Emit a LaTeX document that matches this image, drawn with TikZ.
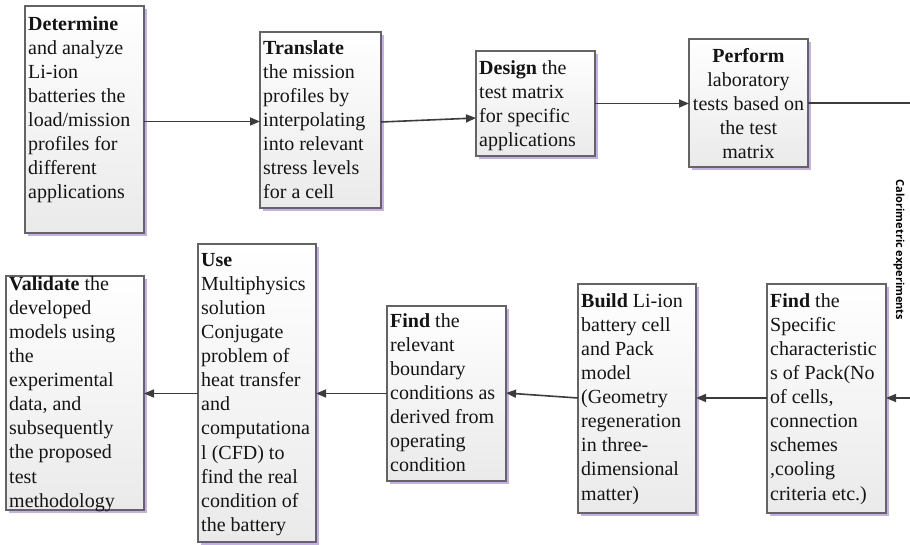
\documentclass[tikz,border=0pt]{standalone}
\usepackage{fontspec}
\setmainfont{Liberation Serif}
\newfontfamily\lblfont{Open Sans}
\usetikzlibrary{arrows.meta,shadows}
\definecolor{edgegray}{RGB}{60,60,60}
\definecolor{boxline}{RGB}{100,100,100}
\definecolor{shadowpurple}{RGB}{196,176,228}
\definecolor{boxbottom}{RGB}{234,234,234}
\newcommand{\fstrut}{\rule{0pt}{18pt}}
\tikzset{
  box/.style={draw=boxline, line width=1.2pt, top color=white, bottom color=boxbottom,
    inner sep=0pt, outer sep=0pt,
    drop shadow={shadow xshift=2.5pt, shadow yshift=-2.5pt, fill=shadowpurple, opacity=1}},
  txt/.style={inner sep=0pt, anchor=north west, align=left, text=black!92,
    font=\fontsize{20}{24.1}\selectfont},
  ctxt/.style={txt, anchor=north, align=center},
  flow/.style={draw=edgegray, line width=1.6pt, -{Triangle[length=10pt,width=8pt]}},
}
\begin{document}
\begin{tikzpicture}[x=1pt,y=-1pt]
\useasboundingbox (0,0) rectangle (910,544);
% boxes: top row
\node[box, minimum width=119pt, minimum height=227pt, anchor=north west] (det) at (25,6) {};
\node[box, minimum width=121pt, minimum height=176pt, anchor=north west] (tra) at (260,32) {};
\node[box, minimum width=119pt, minimum height=105pt, anchor=north west] (des) at (476,51) {};
\node[box, minimum width=119pt, minimum height=128pt, anchor=north west] (per) at (689,39) {};
% boxes: bottom row
\node[box, minimum width=138pt, minimum height=234pt, anchor=north west] (val) at (6,276) {};
\node[box, minimum width=118pt, minimum height=298pt, anchor=north west] (use) at (198,244) {};
\node[box, minimum width=119pt, minimum height=175pt, anchor=north west] (fbc) at (387,306) {};
\node[box, minimum width=118pt, minimum height=229pt, anchor=north west] (bld) at (578,284) {};
\node[box, minimum width=119pt, minimum height=229pt, anchor=north west] (fpk) at (767,284) {};
% texts
\node[txt] (det-t) at (28,12) {\fstrut\textbf{Determine}\\and analyze\\Li-ion\\batteries the\\load/mission\\profiles for\\different\\applications};
\node[txt] (tra-t) at (263,36) {\fstrut\textbf{Translate}\\the mission\\profiles by\\interpolating\\into relevant\\stress levels\\for a cell};
\node[txt] (des-t) at (479,56) {\fstrut\textbf{Design} the\\test matrix\\for specific\\applications};
\node[ctxt] (per-t) at (748.5,44) {\fstrut\textbf{Perform}\\laboratory\\tests based on\\the test\\matrix};
\node[txt] (val-t) at (9,272) {\fstrut\textbf{Validate} the\\developed\\models using\\the\\experimental\\data, and\\subsequently\\the proposed\\test\\methodology};
\node[txt] (use-t) at (201,248) {\fstrut\textbf{Use}\\Multiphysics\\solution\\Conjugate\\problem of\\heat transfer\\and\\computationa\\l (CFD) to\\find the real\\condition of\\the battery};
\node[txt] (fbc-t) at (390,309) {\fstrut\textbf{Find} the\\relevant\\boundary\\conditions as\\derived from\\operating\\condition};
\node[txt] (bld-t) at (581,289) {\fstrut\textbf{Build} Li-ion\\battery cell\\and Pack\\model\\(Geometry\\regeneration\\in three-\\dimensional\\matter)};
\node[txt] (fpk-t) at (770,289) {\fstrut\textbf{Find} the\\Specific\\characteristic\\s of Pack(No\\of cells,\\connection\\schemes\\,cooling\\criteria etc.)};
% side label
\node[rotate=-90, inner sep=0pt, font=\lblfont\bfseries\fontsize{11}{13}\selectfont] (cal) at (899,250) {Calorimetric experiments};
% free ends at the cropped right edge
\coordinate (outR) at (910,103);
\coordinate (inR) at (910,398);
% connectors
\draw[flow] ([yshift=-2pt]det.east) -- ([yshift=-2pt]det.east -| tra.west);
\draw[flow] ([yshift=-2pt]tra.east) -- ([yshift=-14.5pt]des.west);
\draw[flow] (des.east) -- (des.east -| per.west);
\draw[draw=edgegray, line width=1.6pt] (per.east |- outR) -- (outR);
\draw[flow] (inR) -- (inR -| fpk.east);
\draw[flow] (inR -| fpk.west) -- (inR -| bld.east);
\draw[flow] (inR -| bld.west) -- ([yshift=0.5pt]fbc.east);
\draw[flow] (fbc.west) -- (fbc.west -| use.east);
\draw[flow] (fbc.west -| use.west) -- (fbc.west -| val.east);
\end{tikzpicture}
\end{document}
